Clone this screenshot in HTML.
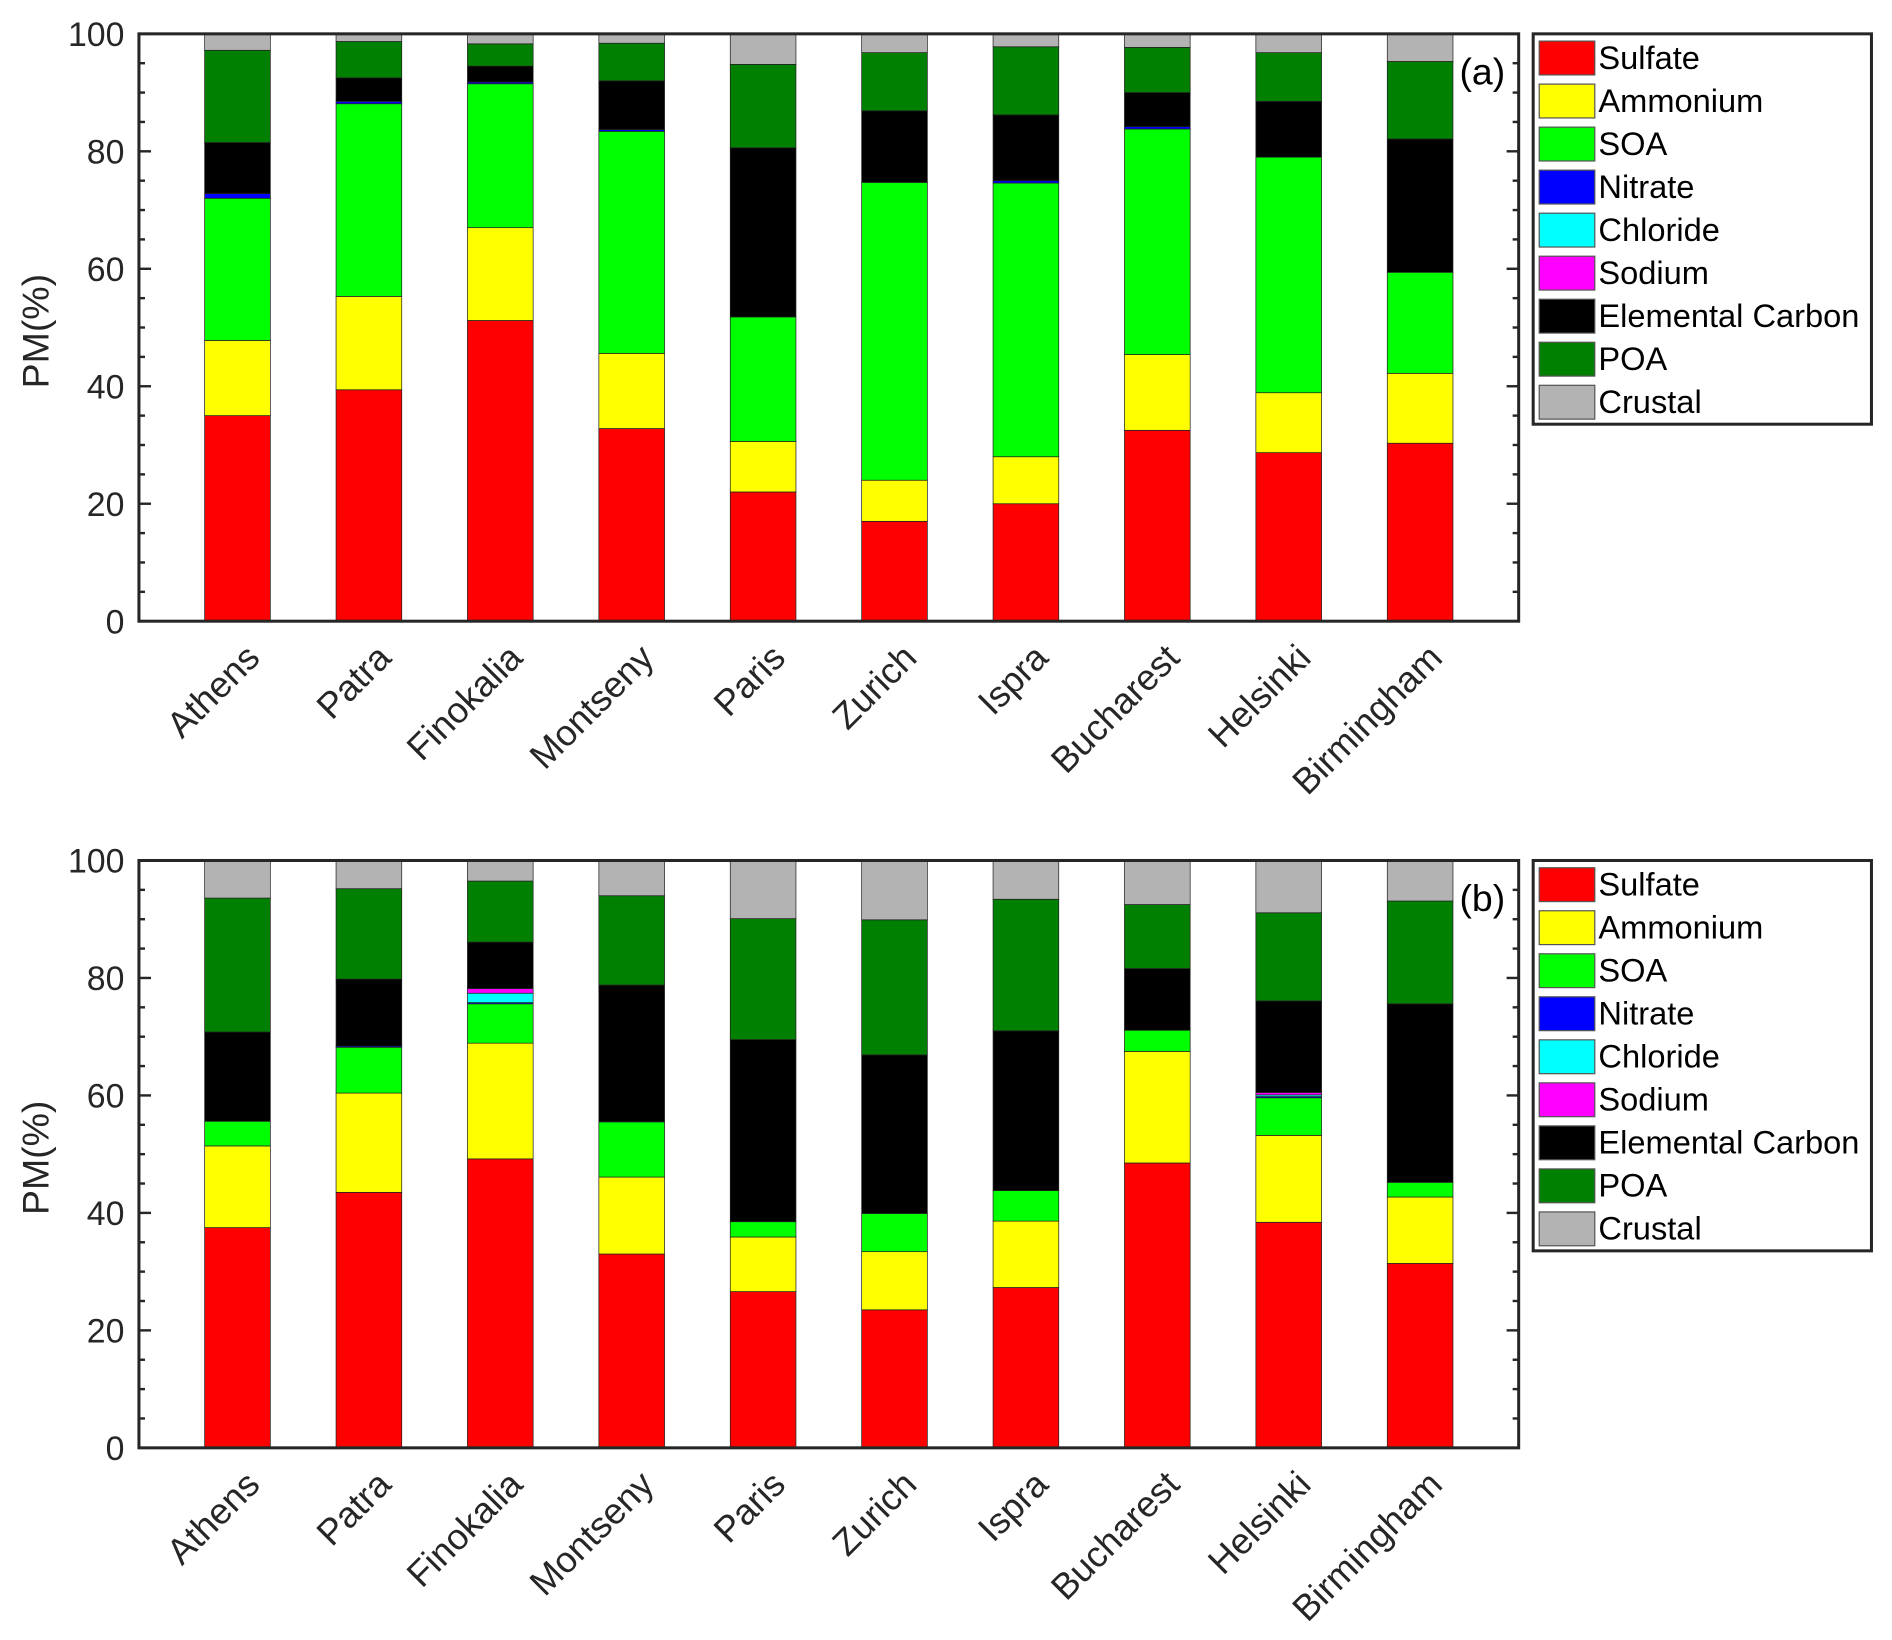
<!DOCTYPE html>
<html><head><meta charset="utf-8"><style>
html,body{margin:0;padding:0;background:#fff;}
svg{display:block;font-family:"Liberation Sans",sans-serif;}
</style></head><body>
<svg id="chart" width="1892" height="1640" viewBox="0 0 1566 1357" preserveAspectRatio="none" xmlns="http://www.w3.org/2000/svg"></svg>
<script>
const categories = ["Athens","Patra","Finokalia","Montseny","Paris","Zurich","Ispra","Bucharest","Helsinki","Birmingham"];
const species = ["Sulfate","Ammonium","SOA","Nitrate","Chloride","Sodium","Elemental Carbon","POA","Crustal"];
const speciesColors = ["#ff0000","#ffff00","#00ff00","#0000ff","#00ffff","#ff00ff","#000000","#008000","#b3b3b3"];
const yTicks = [0,20,40,60,80,100];
// Panel (a) values, % per species, per city
const aSulfate  = [35.0,39.4,51.2,32.8,22.0,17.0,20.0,32.5,28.7,30.3];
const aAmmonium = [12.8,15.9,15.8,12.8,8.6,7.0,8.0,12.9,10.2,11.9];
const aSOA      = [24.2,32.8,24.5,37.8,21.2,50.7,46.6,38.4,40.1,17.2];
const aNitrate  = [0.8,0.4,0.3,0.3,0,0,0.4,0.4,0,0];
const aChloride = [0,0,0,0,0,0,0,0,0,0];
const aSodium   = [0,0,0,0,0,0,0,0,0,0];
const aEC       = [8.7,4.0,2.7,8.3,28.8,12.2,11.2,5.8,9.5,22.7];
const aPOA      = [15.7,6.2,3.8,6.4,14.2,9.9,11.6,7.7,8.3,13.2];
const aCrustal  = [2.8,1.3,1.7,1.6,5.2,3.2,2.2,2.3,3.2,4.7];
// Panel (b)
const bSulfate  = [37.5,43.5,49.2,33.0,26.6,23.5,27.3,48.5,38.4,31.4];
const bAmmonium = [13.9,16.9,19.7,13.1,9.3,9.9,11.3,19.0,14.8,11.3];
const bSOA      = [4.2,7.8,6.7,9.4,2.6,6.5,5.2,3.6,6.4,2.5];
const bNitrate  = [0,0.2,0.2,0,0,0,0,0,0.2,0];
const bChloride = [0,0,1.6,0,0,0,0,0,0.3,0];
const bSodium   = [0,0,0.8,0,0,0,0,0,0.4,0];
const bEC       = [15.2,11.4,7.9,23.3,31.0,27.0,27.2,10.5,15.6,30.4];
const bPOA      = [22.8,15.4,10.4,15.2,20.6,23.0,22.4,10.9,15.0,17.5];
const bCrustal  = [6.4,4.8,3.5,6.0,9.9,10.1,6.6,7.5,8.9,6.9];

const panelA = [aSulfate,aAmmonium,aSOA,aNitrate,aChloride,aSodium,aEC,aPOA,aCrustal];
const panelB = [bSulfate,bAmmonium,bSOA,bNitrate,bChloride,bSodium,bEC,bPOA,bCrustal];

const NS="http://www.w3.org/2000/svg";
const svg=document.getElementById('chart');
function mk(tag,attrs,parent){const e=document.createElementNS(NS,tag);for(const k in attrs)e.setAttribute(k,attrs[k]);(parent||svg).appendChild(e);return e;}

function drawPanel(series,top,label,tag){
  const L=115,R=1257,B=top+486;
  const g=mk('g',{});
  
  
  const x=v=>L+(v-0.25)/(10.5)*(R-L);
  const y=v=>B-v/100*(B-top);
  const bw=(R-L)/10.5*0.5;
  categories.forEach((c,i)=>{
    let cum=0;
    series.forEach((s,k)=>{
      const v=s[i]; if(v<=0) return;
      const r=mk('rect',{x:x(i+1)-bw/2,y:y(cum+v),width:bw,height:y(cum)-y(cum+v),fill:speciesColors[k],stroke:'#222','stroke-width':0.6},g);
      
      
      cum+=v;
    });
    const tx=x(i+1)+20, ty=B+32;
    const t=mk('text',{x:tx,y:ty,'text-anchor':'end','font-size':30,fill:'#262626',transform:`rotate(-45 ${tx} ${ty})`},g);
    
    
    t.textContent=c;
  });
  for(let v=0;v<=100;v+=5){
    const len=v%20===0?10:5;
    mk('line',{x1:L,x2:L+len,y1:y(v),y2:y(v),stroke:'#262626','stroke-width':2},g);
    mk('line',{x1:R,x2:R-len,y1:y(v),y2:y(v),stroke:'#262626','stroke-width':2},g);
  }
  yTicks.forEach(v=>{
    const t=mk('text',{x:103,y:y(v)+10,'text-anchor':'end','font-size':28,fill:'#262626'},g);
    
    
    t.textContent=v;
  });
  const ax=mk('rect',{x:L,y:top,width:R-L,height:B-top,fill:'none',stroke:'#262626','stroke-width':2.5},g);
  
  
  const cy=(top+B)/2+3;
  const yt=mk('text',{x:40,y:cy,'text-anchor':'middle','font-size':31,fill:'#262626',transform:`rotate(-90 40 ${cy})`},g);
  
  
  yt.textContent='PM(%)';
  const pl=mk('text',{x:1208,y:top+42,'font-size':31,fill:'#000'},g);
  
  
  pl.textContent=label;
  const lg=mk('g',{},g);
  
  
  mk('rect',{x:1269,y:top,width:280,height:323,fill:'#fff',stroke:'#262626','stroke-width':2.5},lg);
  species.forEach((s,k)=>{
    const ly=top+20+k*35.6;
    const sw=mk('rect',{x:1274,y:ly-14,width:46,height:28,fill:speciesColors[k],stroke:'#555','stroke-width':1},lg);
    
    
    const t=mk('text',{x:1323,y:ly+9,'font-size':27,fill:'#000'},lg);
    
    
    t.textContent=s;
  });
}
drawPanel(panelA,28,'(a)','a');
drawPanel(panelB,712,'(b)','b');
</script>
</body></html>
